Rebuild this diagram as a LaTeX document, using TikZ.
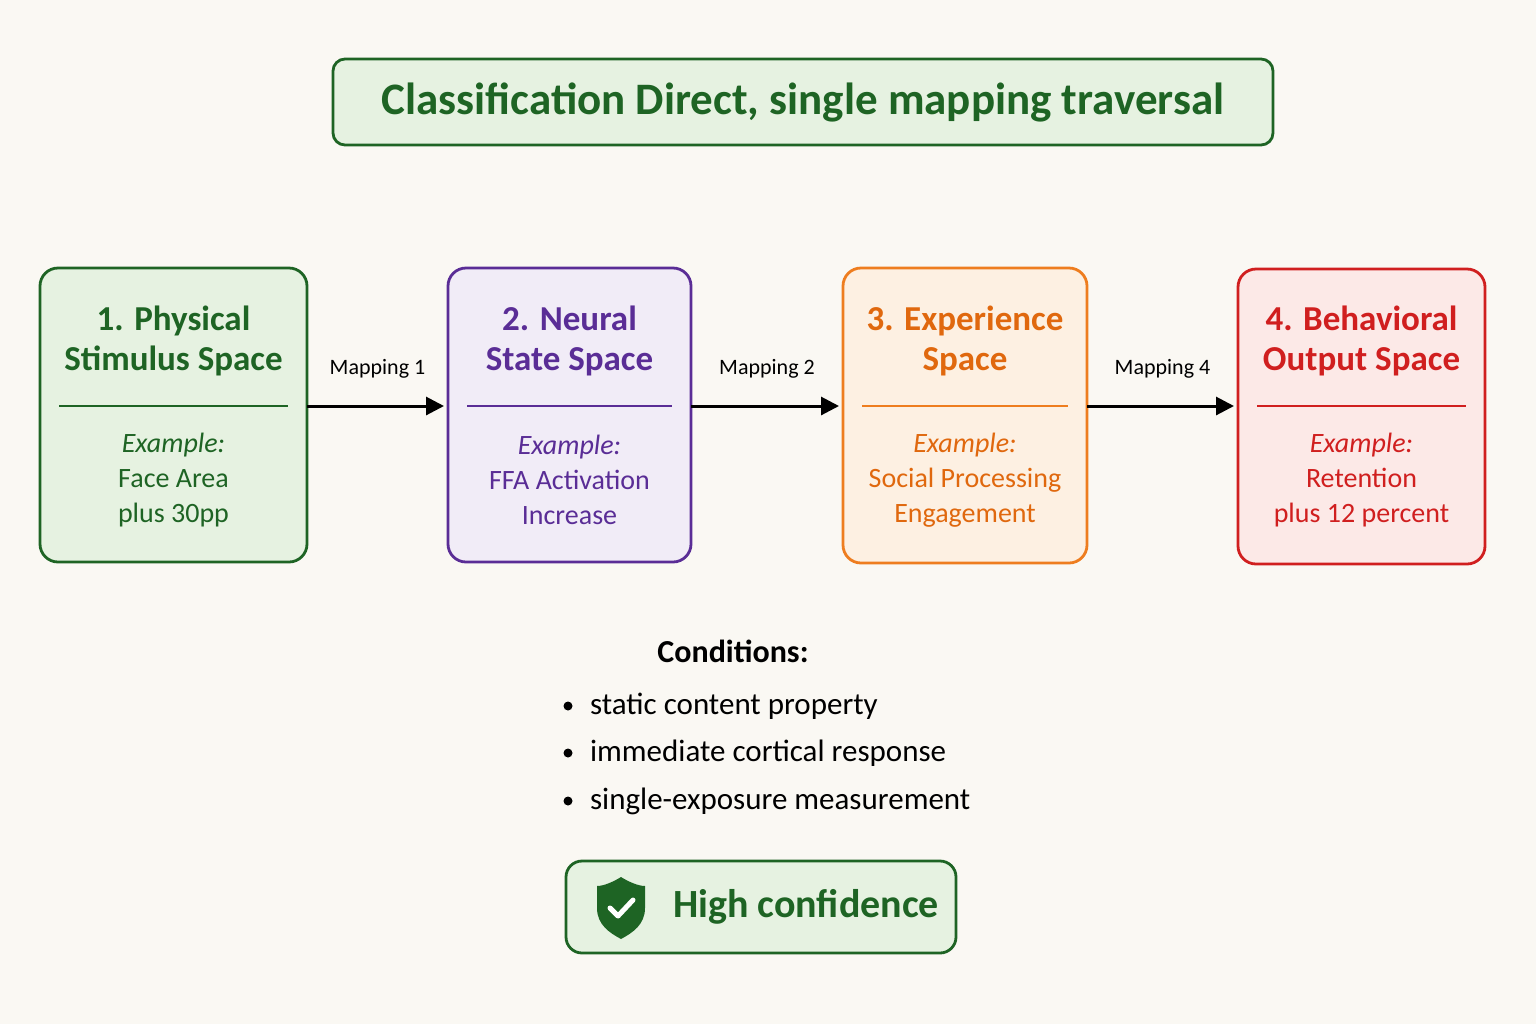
\documentclass[tikz,border=0pt]{standalone}
\usepackage{fontspec}
\setmainfont{Carlito}
\usetikzlibrary{arrows.meta}
\definecolor{bg}{HTML}{FAF8F3}
\definecolor{gD}{HTML}{1E6424}\definecolor{gF}{HTML}{E6F2E1}
\definecolor{pD}{HTML}{5A2D96}\definecolor{pF}{HTML}{F1ECF7}
\definecolor{oD}{HTML}{EE7D1F}\definecolor{oT}{HTML}{E0680E}\definecolor{oF}{HTML}{FDF0E2}
\definecolor{rD}{HTML}{D01F1F}\definecolor{rF}{HTML}{FCE9E7}
\tikzset{
 stage/.style={draw=#1D,fill=#1F,line width=1.4pt,rounded corners=9pt},
 ttl/.style={font=\fontsize{17.5}{20}\selectfont\bfseries,align=center},
 ex/.style={font=\fontsize{14}{17.5}\selectfont,align=center},
 maplbl/.style={font=\fontsize{11}{13}\selectfont},
 flow/.style={line width=1.5pt,-{Triangle[length=9pt,width=9pt]},shorten >=2pt},
 bul/.style={font=\fontsize{15.5}{18}\selectfont,anchor=west}
}
\begin{document}
\begin{tikzpicture}[x=0.5pt,y=-0.5pt]
\fill[bg] (0,0) rectangle (1536,1024);
\useasboundingbox (0,0) rectangle (1536,1024);
\node[draw=gD,fill=gF,line width=1.4pt,rounded corners=6pt,minimum width=470pt,minimum height=43pt] (title) at (803,102) {};
\node[font=\fontsize{22.5}{24}\selectfont\bfseries,text=gD] at (title) {Classification Direct, single mapping traversal};
% stages
\newcommand{\stagebox}[9]{%
 \draw[stage=#1] (#2,#3) rectangle (#4,#5);
 \node (#6) at ({(#2+#4)/2},{(#3+#5)/2}) {};
 \coordinate (#6w) at (#2,406); \coordinate (#6e) at (#4,406);
 \draw[#1D,line width=1pt] ({#2+19},406) -- ({#4-19},406);
 \node[ttl,text=#7] at ({(#2+#4)/2},341) {#8};
 \node[ex,text=#7] at ({(#2+#4)/2},480) {\textit{Example:}\\#9};
}
\stagebox{g}{40}{268}{307}{562}{s1}{gD}{1. Physical\\Stimulus Space}{Face Area\\plus 30pp}
\stagebox{p}{448}{268}{691}{562}{s2}{pD}{2. Neural\\State Space}{FFA Activation\\Increase}
\stagebox{o}{843}{268}{1087}{563}{s3}{oT}{3. Experience\\Space}{Social Processing\\Engagement}
\stagebox{r}{1238}{269}{1485}{564}{s4}{rD}{4. Behavioral\\Output Space}{Retention\\plus 12 percent}
\draw[flow] (s1e) -- (s2w) node[midway,above=10pt,maplbl] {Mapping 1};
\draw[flow] (s2e) -- (s3w) node[midway,above=10pt,maplbl] {Mapping 2};
\draw[flow] (s3e) -- (s4w) node[midway,above=10pt,maplbl] {Mapping 4};
% conditions
\node[font=\fontsize{16}{18}\selectfont\bfseries] (cond) at (733,651) {Conditions:};
\foreach \y/\t in {706/static content property,753/immediate cortical response,801/single-exposure measurement}{
 \fill (568,\y) circle (4.5);
 \node[bul] at (583,\y) {\t};
}
% high confidence
\node[draw=gD,fill=gF,line width=1.4pt,rounded corners=8pt,minimum width=195pt,minimum height=46pt] (hc) at (761,907) {};
\node[font=\fontsize{20}{22}\selectfont\bfseries,text=gD,anchor=west] at (666,907) {High confidence};
\fill[gD] (621,877) .. controls (608,885) and (600,886) .. (597,886) -- (597,908)
 .. controls (597,925) and (610,933) .. (621,939) .. controls (632,933) and (645,925) .. (645,908)
 -- (645,886) .. controls (642,886) and (634,885) .. (621,877) -- cycle;
\draw[white,line width=2.5pt,line cap=round,line join=round] (610,908) -- (618,916) -- (633,900);
\end{tikzpicture}
\end{document}
